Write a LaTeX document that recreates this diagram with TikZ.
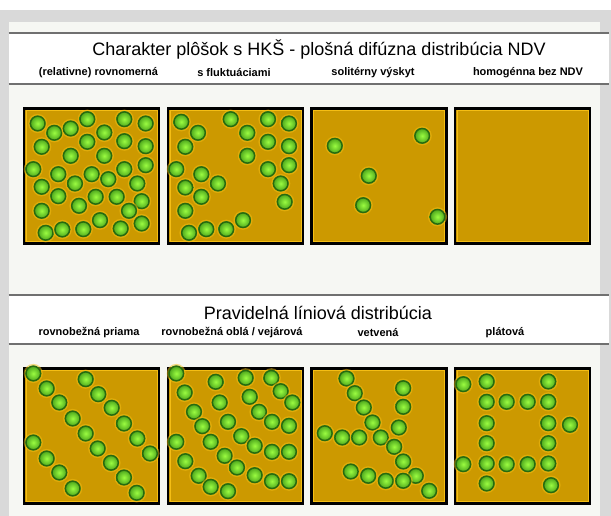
\documentclass[tikz,border=0pt]{standalone}
\usepackage{fontspec}
\setmainfont{Liberation Sans}
\usetikzlibrary{calc}
\definecolor{pozadie}{RGB}{217,217,217}
\definecolor{panel}{RGB}{246,247,243}
\definecolor{linka}{RGB}{112,112,112}
\definecolor{okr}{RGB}{204,153,0}
\definecolor{okr-svetla}{RGB}{245,190,20}
\definecolor{zelena}{RGB}{155,252,65}
\definecolor{zelena-tmava}{RGB}{70,160,25}
\definecolor{zelena-okraj}{RGB}{40,105,15}

\tikzset{
  plocha/.style={fill=okr, draw=black, line width=2.2pt},
  plocha okraj/.style={draw=okr-svetla, line width=0.8pt},
  ziara/.style={fill=okr-svetla, opacity=0.5},
  bunka/.style={inner color=zelena, outer color=zelena-tmava},
  bunka okraj/.style={draw=zelena-okraj, line width=1.4pt},
  nadpis/.style={font=\fontsize{18}{20}\selectfont},
  popis/.style={font=\bfseries\fontsize{11}{13}\selectfont}
}

% stvorec s bunkami, #1/#2 lavy horny roh
\newcommand{\plocha}[3]{%
  \begin{scope}[shift={(#1,#2)}]
    \draw[plocha] (0,0) rectangle (135,135);
    \draw[plocha okraj] (1.9,1.9) rectangle (133.1,133.1);
    \foreach \x/\y in {#3} {
      \fill[ziara] (\x,\y) circle (9.6);
      \shade[bunka] (\x,\y) circle (8);
      \draw[bunka okraj] (\x,\y) circle (7.3);
    }
  \end{scope}}

\begin{document}
\begin{tikzpicture}[x=1pt, y=-1pt]

    \useasboundingbox (0,0) rectangle (611,516);
    \fill[pozadie] (0,10) rectangle (611,516);
    \fill[panel] (8.5,22) rectangle (600,516);

    % pasy s nadpismi
    \fill[white] (8.5,33.3) rectangle (609,84.3);
    \fill[white] (8.5,295) rectangle (609,344);
    \foreach \h in {33.3, 84.3, 295, 344}
      \draw[linka, line width=1.8pt] (8.5,\h) -- (609,\h);

    \node[nadpis] (nadpis1) at (319,50) {Charakter plôšok s HKŠ - plošná difúzna distribúcia NDV};
    \node[popis] (rovnomerna) at (98.5,72.7) {(relativne) rovnomerná};
    \node[popis] (fluktuacie) at (234,72.7) {s fluktuáciami};
    \node[popis] (soliterny) at (373,72.7) {solitérny výskyt};
    \node[popis] (homogenna) at (528,72.7) {homogénna bez NDV};

    \node[nadpis] (nadpis2) at (318,313) {Pravidelná líniová distribúcia};
    \node[popis] (priama) at (89,333) {rovnobežná priama};
    \node[popis] (obla) at (232,333) {rovnobežná oblá / vejárová};
    \node[popis] (vetvena) at (378,333) {vetvená};
    \node[popis] (platova) at (505,333) {plátová};

    % plosna difuzna distribucia
    \plocha{24}{108.5}{13.7/15, 30.3/24.3, 46.7/20, 63.3/10.7, 80.3/24, 100.3/10.7, 121.7/15, 17.7/38.3, 63.3/33.3, 100.3/32.7, 121.7/37.7, 46.7/47.3, 80.3/47.3, 9.3/60.7, 34.3/65.7, 67.7/65.7, 84.3/70.7, 100.3/60.7, 121.7/56.7, 17.7/78.3, 51/75, 113.3/75, 34.3/87.7, 71.7/88.3, 92.7/88.3, 117.7/92.7, 55/97.3, 105/102.3, 17.7/102.3, 76/111.7, 117.7/115, 21.7/124.3, 38.3/121, 59.3/120.7, 96.7/120}
    \plocha{168}{108.5}{13.3/13.3, 30/24.3, 17.3/38.3, 62.7/10.7, 79.3/24.3, 100/10.7, 121/15, 79.3/47.3, 100/33.3, 121/37.7, 8.3/60.7, 33.3/65.7, 50/75, 100/60.7, 121/56.7, 17.3/79, 33.3/88.3, 112.7/75, 116.7/93.3, 17.3/102.3, 75/111.7, 21/124.3, 38.3/120.7, 58.3/120.7}
    \plocha{311.5}{108.5}{23.3/37.3, 110.7/27.3, 57.3/67.3, 51.7/96.7, 126/108.3}
    \draw[plocha] (455,108.5) rectangle ++(135,135);
    \draw[plocha okraj] (456.9,110.4) rectangle ++(131.2,131.2);

    % liniova distribucia
    \plocha{24}{368.5}{9.3/5, 22.7/20, 35.3/34, 48.7/50, 61.7/65, 73.7/80, 87/94.3, 100/109, 112.7/124.3, 61.7/10.7, 74.3/25.7, 87.7/39.3, 100/55, 113.3/70, 126/85, 9.3/74, 22.7/90, 35.3/104, 48.7/120}
    \plocha{168}{368.5}{8.3/5, 16.7/24, 26/43.3, 34.3/57.7, 42.7/73.3, 56.7/87.3, 69/99, 86.7/106.7, 104/112.7, 121/112.7, 8.3/73.3, 17.3/92.7, 30.7/107.3, 42.7/118.3, 60/122.7, 47.7/13.3, 51.7/34, 60/53.3, 73.3/67.7, 86.7/77.3, 104/83.3, 121/83.3, 77.7/9.3, 81.7/28.3, 91/43.3, 104/53.3, 121/57.3, 103.3/9.3, 112.7/22.7, 124.3/34}
    \plocha{311.5}{368.5}{35/10, 43.3/24.7, 52.3/39, 61/54, 69.3/69, 82.7/78.3, 91.7/93, 104.3/107.3, 117.7/122.3, 13.3/64.7, 30.7/69, 47.7/69, 91.7/19.7, 91.7/38.3, 87.3/59, 39.3/103, 56.7/107.3, 74.3/112.3, 91.7/112.3}
    \plocha{455}{368.5}{8.3/15.7, 31.7/13, 93.3/13, 31.7/33.3, 51.7/33.3, 72.7/33.3, 93.3/33.3, 31.7/54.7, 93.3/54.7, 115/56.3, 31.7/74.7, 93.3/74.7, 8.3/95.7, 31.7/95, 51.7/95.7, 72.7/95.7, 93.3/95, 31.7/115, 96/116.7}

\end{tikzpicture}
\end{document}
